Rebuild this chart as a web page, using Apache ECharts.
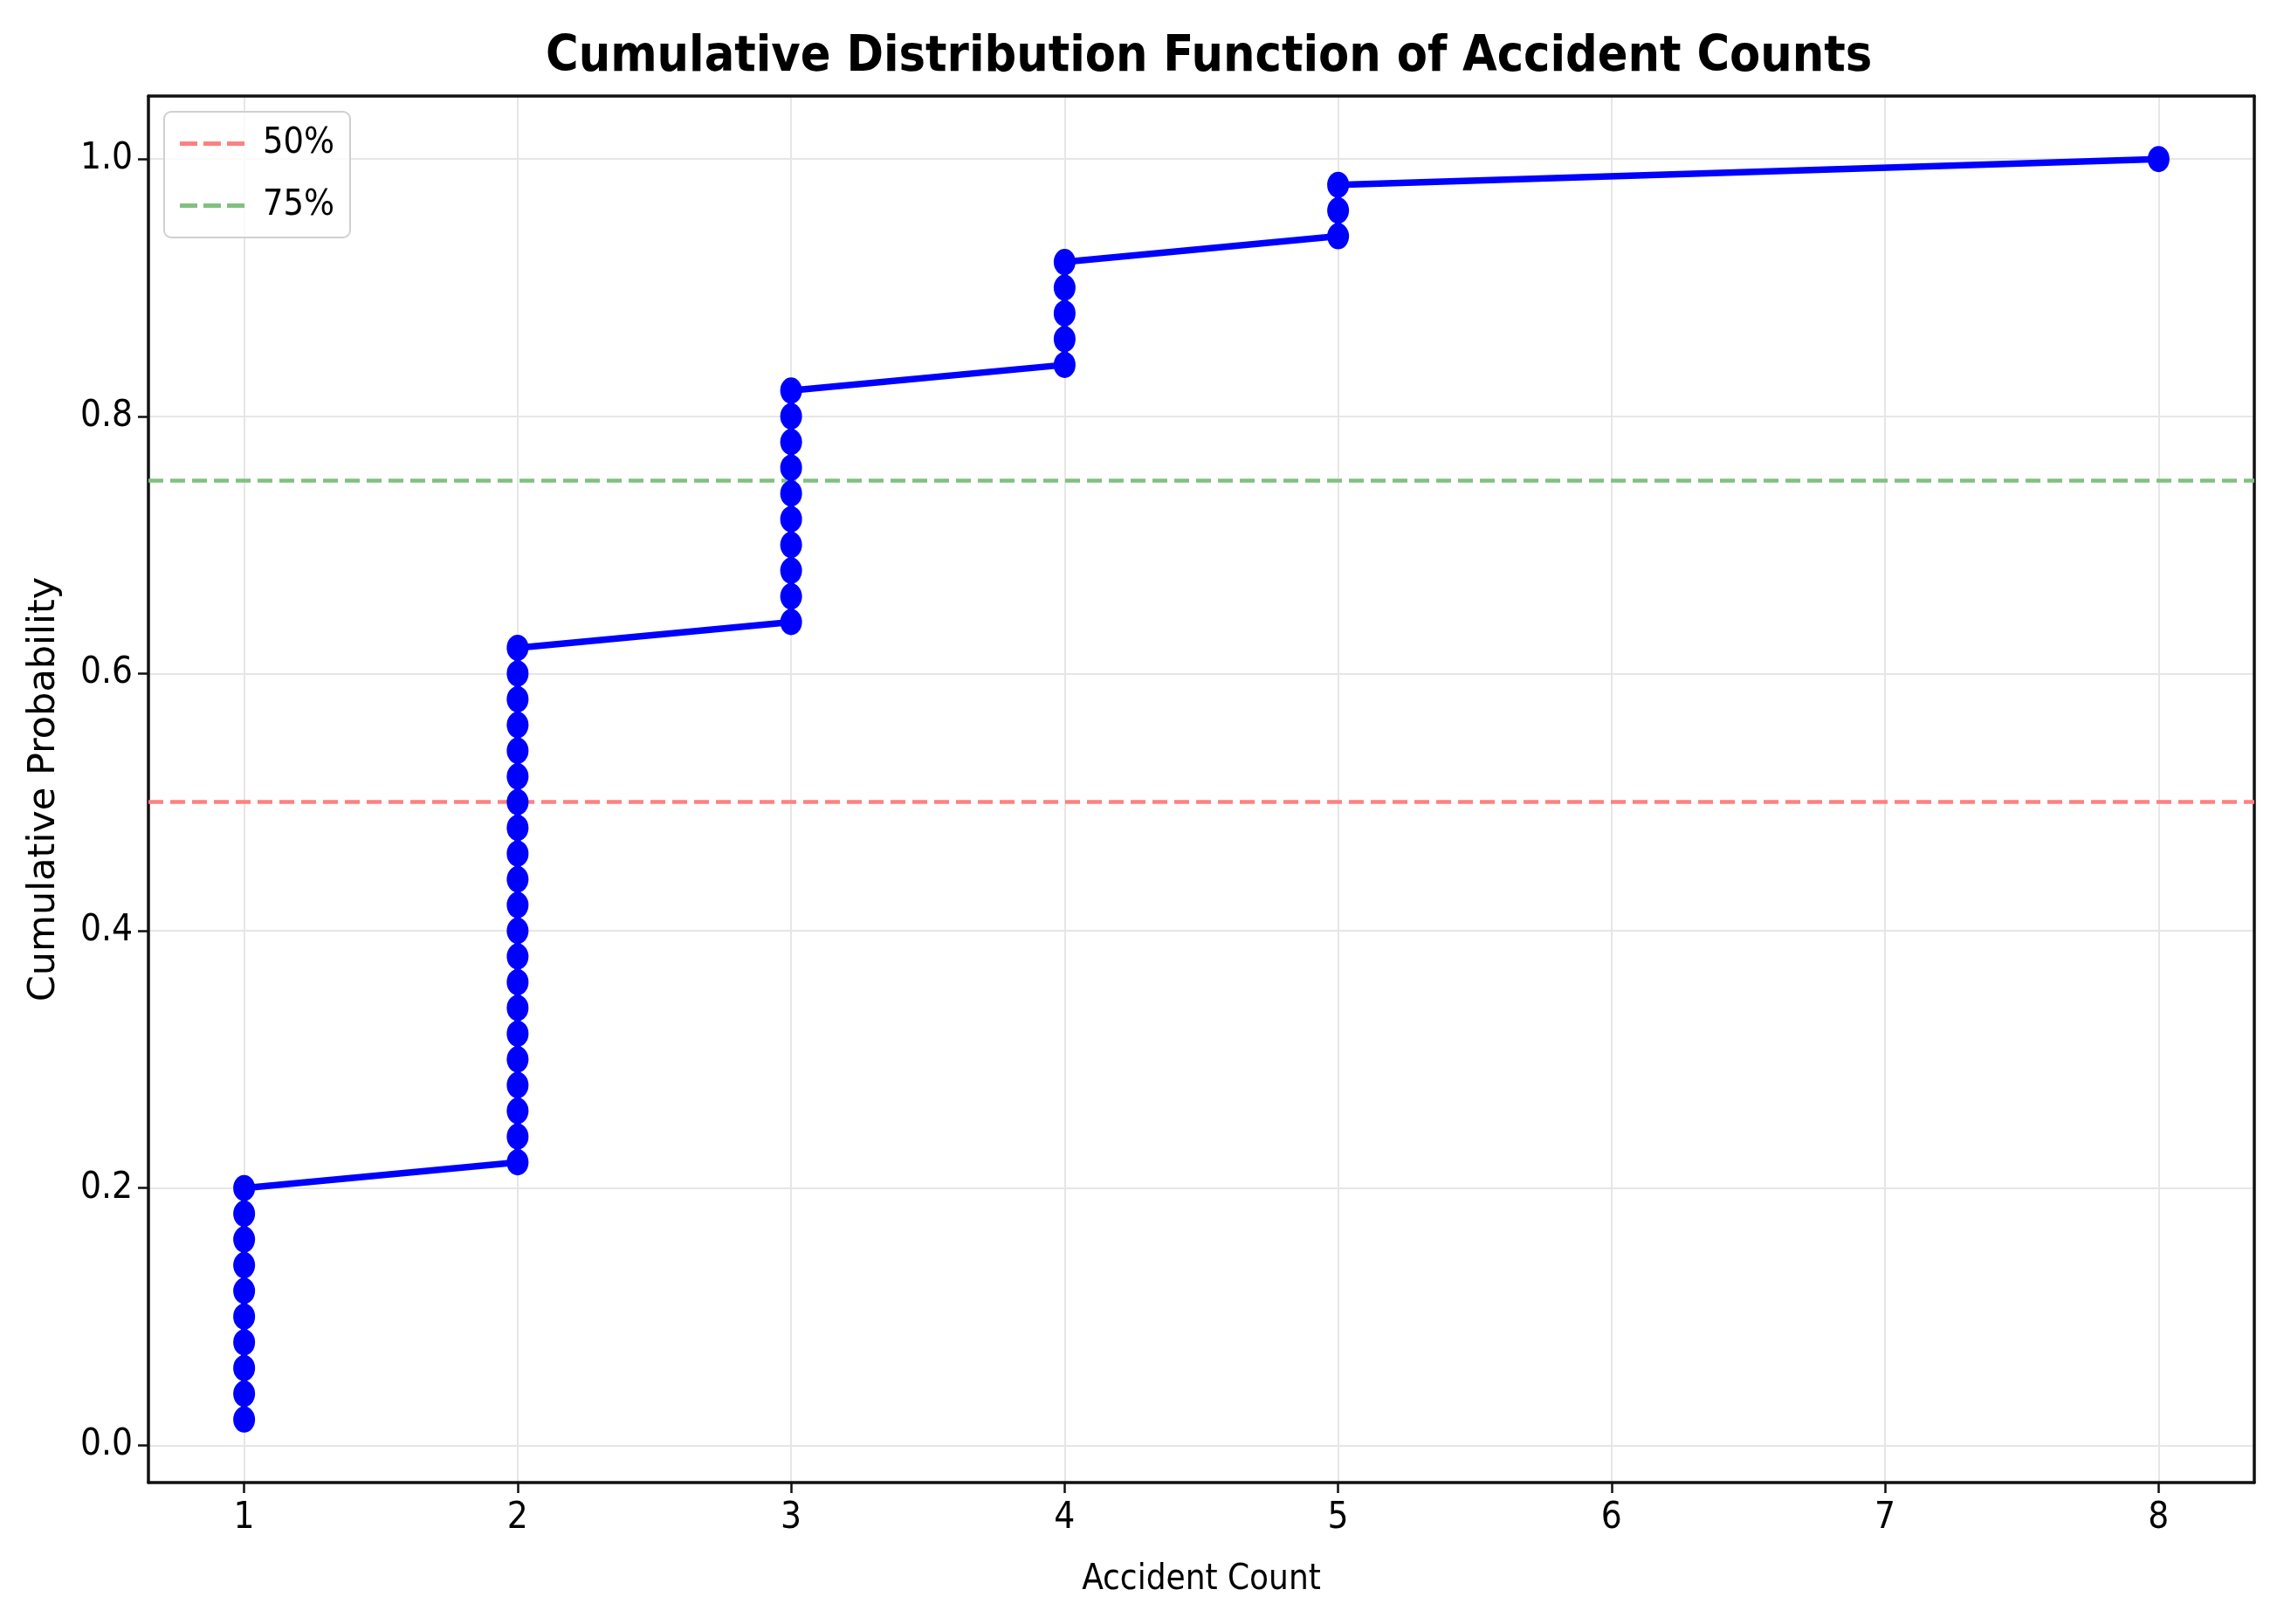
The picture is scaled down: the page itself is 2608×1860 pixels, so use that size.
<!DOCTYPE html>
<html>
<head>
<meta charset="utf-8">
<script src="https://cdn.jsdelivr.net/npm/echarts@6/dist/echarts.min.js"></script>
<style>
html,body{margin:0;padding:0;background:#fff;}
#chart{width:2608px;height:1860px;}
</style>
</head>
<body>
<div id="chart"></div>
<script>
// Accident counts (sorted) and their cumulative probabilities
const accidentCounts = [
  1,1,1,1,1,1,1,1,1,1,
  2,2,2,2,2,2,2,2,2,2,2,2,2,2,2,2,2,2,2,2,2,
  3,3,3,3,3,3,3,3,3,3,
  4,4,4,4,4,
  5,5,5,
  8
];
const cumulativeProb = [
  0.02,0.04,0.06,0.08,0.10,0.12,0.14,0.16,0.18,0.20,
  0.22,0.24,0.26,0.28,0.30,0.32,0.34,0.36,0.38,0.40,0.42,0.44,0.46,0.48,0.50,0.52,0.54,0.56,0.58,0.60,0.62,
  0.64,0.66,0.68,0.70,0.72,0.74,0.76,0.78,0.80,0.82,
  0.84,0.86,0.88,0.90,0.92,
  0.94,0.96,0.98,
  1.00
];
const refNames = ['50%', '75%'];
const refValues = [0.5, 0.75];
const refColors = ['#ff8080', '#80c080'];
const xLimits = [0.65, 8.35];
const yLimits = [-0.029, 1.049];

const condensed = '"DejaVu Sans Condensed", "Liberation Sans Narrow", "DejaVu Sans", sans-serif';
const regular = '"DejaVu Sans", sans-serif';
const dashIcon = 'path://M0,0H20V5H0Z M27,0H47V5H27Z M54,0H74V5H54Z';

const chart = echarts.init(document.getElementById('chart'), null, {renderer: 'canvas'});

const cdfData = accidentCounts.map((x, i) => [x, cumulativeProb[i]]);

const refSeries = refNames.map((name, i) => ({
  name: name,
  type: 'line',
  data: [],
  symbol: 'none',
  lineStyle: {color: refColors[i], type: [17, 8], width: 4.5},
  itemStyle: {color: refColors[i]},
  markLine: {
    silent: true,
    symbol: ['none', 'none'],
    label: {show: false},
    lineStyle: {color: refColors[i], type: [17, 8], width: 4.5},
    data: [{yAxis: refValues[i]}]
  },
  z: 3
}));

const frameAxisX = {
  type: 'value', position: 'top', min: xLimits[0], max: xLimits[1],
  axisLine: {show: true, onZero: false, lineStyle: {color: '#111', width: 3.5}},
  axisTick: {show: false}, axisLabel: {show: false}, splitLine: {show: false}
};
const frameAxisY = {
  type: 'value', position: 'right', min: yLimits[0], max: yLimits[1],
  axisLine: {show: true, onZero: false, lineStyle: {color: '#111', width: 3.5}},
  axisTick: {show: false}, axisLabel: {show: false}, splitLine: {show: false}
};

chart.setOption({
  animation: false,
  backgroundColor: '#ffffff',
  title: {
    text: 'Cumulative Distribution Function of Accident Counts',
    left: 620,
    top: 33,
    textStyle: {fontFamily: condensed, fontWeight: 'bold', fontSize: 57, color: '#000'}
  },
  legend: {
    data: refNames.map(n => ({name: n, icon: dashIcon})),
    orient: 'vertical',
    left: 188,
    top: 128,
    padding: [16, 18, 16, 18],
    itemGap: 30,
    itemWidth: 74,
    itemHeight: 5,
    borderColor: '#d0d0d0',
    borderWidth: 2,
    borderRadius: 8,
    backgroundColor: 'rgba(255,255,255,0.8)',
    textStyle: {fontFamily: condensed, fontSize: 41, color: '#000', padding: [0, 0, 0, 16]}
  },
  grid: {
    left: 170,
    right: 26,
    top: 110,
    bottom: 162,
    show: false,
    containLabel: false
  },
  xAxis: [{
    type: 'value',
    min: xLimits[0],
    max: xLimits[1],
    splitNumber: 8,
    name: 'Accident Count',
    nameLocation: 'middle',
    nameGap: 92,
    nameTextStyle: {fontFamily: condensed, fontSize: 40, color: '#000'},
    axisLine: {show: true, onZero: false, lineStyle: {color: '#111', width: 3.5}},
    axisTick: {show: true, length: 12, lineStyle: {color: '#111', width: 2.5}},
    axisLabel: {
      fontFamily: condensed, fontSize: 42, color: '#000', margin: 20,
      showMinLabel: false, showMaxLabel: false,
      formatter: v => Number.isInteger(v) ? String(v) : ''
    },
    splitLine: {show: true, lineStyle: {color: '#e6e6e6', width: 2}}
  }, frameAxisX],
  yAxis: [{
    type: 'value',
    min: yLimits[0],
    max: yLimits[1],
    splitNumber: 5,
    name: 'Cumulative Probability',
    nameLocation: 'middle',
    nameGap: 98,
    nameTextStyle: {fontFamily: regular, fontSize: 43, color: '#000'},
    axisLine: {show: true, onZero: false, lineStyle: {color: '#111', width: 3.5}},
    axisTick: {show: true, length: 12, lineStyle: {color: '#111', width: 2.5}},
    axisLabel: {
      fontFamily: condensed, fontSize: 42, color: '#000', margin: 18,
      showMinLabel: false, showMaxLabel: false,
      formatter: v => v.toFixed(1)
    },
    splitLine: {show: true, lineStyle: {color: '#e6e6e6', width: 2}}
  }, frameAxisY],
  series: [
    {
      name: 'CDF',
      type: 'line',
      data: cdfData,
      symbol: 'circle',
      symbolSize: [25, 30],
      showAllSymbol: true,
      lineStyle: {color: '#0000ff', width: 7.5},
      itemStyle: {color: '#0000ff'},
      z: 5
    }
  ].concat(refSeries)
});
</script>
</body>
</html>
